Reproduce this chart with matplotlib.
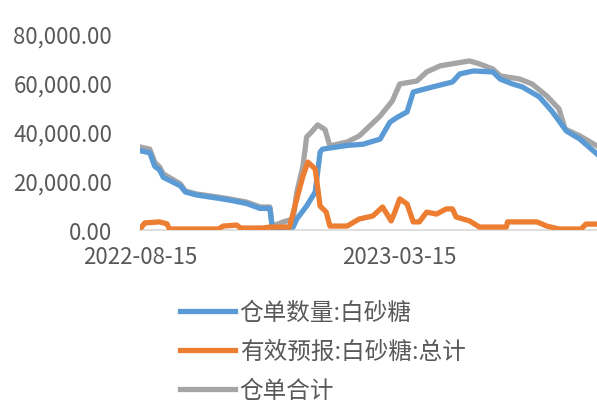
import matplotlib.pyplot as plt
import matplotlib.dates as mdates
import matplotlib.ticker as mticker
import pandas as pd

plt.rcParams['font.family'] = ['Noto Sans CJK SC', 'DejaVu Sans']
plt.rcParams['font.weight'] = 'light'

# 仓单合计
total_dates = ['2022-08-15', '2022-08-23', '2022-08-27', '2022-08-31', '2022-09-03', '2022-09-17',
               '2022-09-21', '2022-09-30', '2022-10-17', '2022-10-27', '2022-11-10', '2022-11-21',
               '2022-11-29', '2022-12-01', '2022-12-10', '2022-12-18', '2022-12-21', '2022-12-26',
               '2022-12-29', '2023-01-02', '2023-01-07', '2023-01-13', '2023-01-17', '2023-01-31',
               '2023-02-10', '2023-02-27', '2023-03-09', '2023-03-15', '2023-03-29', '2023-04-06',
               '2023-04-17', '2023-05-11', '2023-05-19', '2023-05-30', '2023-06-05', '2023-06-21',
               '2023-07-01', '2023-07-13', '2023-07-23', '2023-07-28', '2023-08-09', '2023-08-23']
total_vals = [33900, 33000, 27700, 25700, 22900, 18800, 15900, 14700, 13500, 12700, 11400, 9400,
              9400, 1600, 3300, 4500, 15500, 26000, 38000, 40000, 42900, 41000, 34300, 35900,
              38400, 46500, 52700, 59600, 60800, 64500, 67000, 69000, 67800, 65700, 62900, 61600,
              59600, 54700, 49400, 41200, 38400, 34300]

# 仓单数量:白砂糖
wr_dates = ['2022-08-15', '2022-08-23', '2022-08-27', '2022-08-31', '2022-09-03', '2022-09-17',
            '2022-09-21', '2022-09-30', '2022-10-17', '2022-10-27', '2022-11-10', '2022-11-21',
            '2022-11-29', '2022-12-01', '2022-12-18', '2022-12-21', '2022-12-29', '2023-01-05',
            '2023-01-09', '2023-01-11', '2023-01-31', '2023-02-13', '2023-02-27', '2023-03-07',
            '2023-03-13', '2023-03-21', '2023-03-26', '2023-04-11', '2023-04-27', '2023-05-03',
            '2023-05-14', '2023-05-30', '2023-06-05', '2023-06-15', '2023-06-23', '2023-07-07',
            '2023-07-17', '2023-07-29', '2023-08-09', '2023-08-23']
wr_vals = [32400, 31500, 26000, 24500, 21500, 18000, 15500, 14300, 13000, 12200, 10800, 8800,
           8800, 800, 1200, 4500, 9800, 15500, 31800, 33000, 34500, 35000, 37100, 44000,
           46000, 48200, 56300, 58400, 60400, 63700, 64900, 64500, 61600, 59600, 58400, 54300,
           48600, 40400, 37100, 31000]

# 有效预报:白砂糖:总计
fc_dates = ['2022-08-15', '2022-08-19', '2022-08-31', '2022-09-06', '2022-09-08', '2022-10-18',
            '2022-10-22', '2022-11-02', '2022-11-05', '2022-11-23', '2022-11-29', '2022-12-15',
            '2022-12-21', '2022-12-26', '2022-12-30', '2023-01-05', '2023-01-09', '2023-01-14',
            '2023-01-17', '2023-01-31', '2023-02-10', '2023-02-21', '2023-03-01', '2023-03-08',
            '2023-03-11', '2023-03-15', '2023-03-21', '2023-03-26', '2023-03-31', '2023-04-06',
            '2023-04-14', '2023-04-22', '2023-04-27', '2023-04-30', '2023-05-11', '2023-05-19',
            '2023-06-10', '2023-06-11', '2023-07-05', '2023-07-13', '2023-07-23', '2023-08-10',
            '2023-08-14', '2023-08-23']
fc_vals = [400, 2900, 3300, 2500, 400, 400, 1600, 2000, 800, 800, 1200, 1200, 12700, 22000,
           27700, 24900, 9800, 7300, 1600, 1600, 4500, 5700, 9400, 3700, 7300, 12700, 10600,
           3300, 3300, 7300, 6500, 8600, 8600, 5300, 3700, 1200, 1200, 3300, 3300, 1600, 400,
           400, 2400, 2400]

fig = plt.figure(figsize=(5.97, 4.02), dpi=100)
ax = fig.add_axes([0.2345, 0.4254, 0.7655, 0.4876])

ax.plot(pd.to_datetime(wr_dates), wr_vals, color='#5B9BD5', lw=3.8, label='仓单数量:白砂糖',
        solid_joinstyle='round', zorder=3)
ax.plot(pd.to_datetime(fc_dates), fc_vals, color='#ED7D31', lw=3.8, label='有效预报:白砂糖:总计',
        solid_joinstyle='round', zorder=4)
ax.plot(pd.to_datetime(total_dates), total_vals, color='#A5A5A5', lw=3.8, label='仓单合计',
        solid_joinstyle='round', zorder=2)

ax.set_ylim(0, 80000)
ax.set_xlim(pd.Timestamp('2022-08-15'), pd.Timestamp('2023-08-23'))
ax.yaxis.set_major_locator(mticker.MultipleLocator(20000))
ax.yaxis.set_major_formatter(mticker.FuncFormatter(lambda v, p: f'{v:,.2f}'))
ax.set_xticks(pd.to_datetime(['2022-08-15', '2023-03-15']))
ax.xaxis.set_major_formatter(mdates.DateFormatter('%Y-%m-%d'))

for s in ['top', 'right', 'left']:
    ax.spines[s].set_visible(False)
ax.spines['bottom'].set_color('#D9D9D9')
ax.spines['bottom'].set_linewidth(1.2)
ax.tick_params(length=0, labelsize=16, labelcolor='#595959')
ax.tick_params(axis='y', pad=20)
ax.tick_params(axis='x', pad=11)

fig.legend(loc='upper left', bbox_to_anchor=(0.3015, 0.249), frameon=False, fontsize=17,
           labelcolor='#595959', handlelength=2.33, handletextpad=0.2, labelspacing=0.69,
           borderaxespad=0, borderpad=0)

fig.savefig('out.png', dpi=100)
